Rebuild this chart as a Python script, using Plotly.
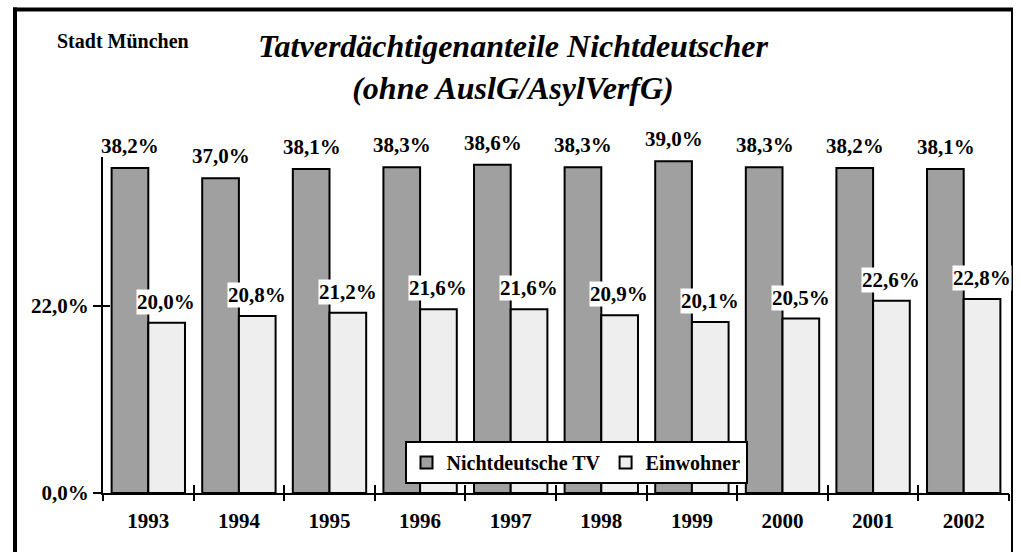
import plotly.graph_objects as go

years = ["1993", "1994", "1995", "1996", "1997", "1998", "1999", "2000", "2001", "2002"]
tv_values = [38.2, 37.0, 38.1, 38.3, 38.6, 38.3, 39.0, 38.3, 38.2, 38.1]
einw_values = [20.0, 20.8, 21.2, 21.6, 21.6, 20.9, 20.1, 20.5, 22.6, 22.8]
tv_labels = ["38,2%", "37,0%", "38,1%", "38,3%", "38,6%", "38,3%", "39,0%", "38,3%", "38,2%", "38,1%"]
einw_labels = ["20,0%", "20,8%", "21,2%", "21,6%", "21,6%", "20,9%", "20,1%", "20,5%", "22,6%", "22,8%"]
y_tickvals = [0, 22]
y_ticktext = ["0,0%", "22,0%"]

FONT = "Liberation Serif"
W, H = 1021, 552
ML, MR, MT, MB = 103, 12, 157, 59

n = len(years)
pos = list(range(n))
bounds = [i - 0.5 for i in range(n + 1)]
xr = [-0.5, n - 0.5]
yr = [0, 39.5]

def bfont(size):
    return dict(family=FONT, size=size, color="black", weight="bold")

fig = go.Figure()
fig.add_trace(go.Bar(
    x=pos, y=tv_values, name="Nichtdeutsche TV",
    marker=dict(color="#a0a0a0", line=dict(color="black", width=2)),
))
fig.add_trace(go.Bar(
    x=pos, y=einw_values, name="Einwohner",
    marker=dict(color="#eeeeee", line=dict(color="black", width=2)),
))
# invisible helper traces so the tick-only overlay axes get drawn
fig.add_trace(go.Scatter(x=bounds, y=[0] * len(bounds), xaxis="x2", yaxis="y",
                         mode="markers", marker=dict(opacity=0), showlegend=False, hoverinfo="skip"))
fig.add_trace(go.Scatter(x=bounds, y=[0] * len(bounds), xaxis="x3", yaxis="y",
                         mode="markers", marker=dict(opacity=0), showlegend=False, hoverinfo="skip"))
fig.add_trace(go.Scatter(x=[0, 0], y=y_tickvals, xaxis="x", yaxis="y2",
                         mode="markers", marker=dict(opacity=0), showlegend=False, hoverinfo="skip"))

annotations = []
for p, v, t in zip(pos, tv_values, tv_labels):
    annotations.append(dict(x=p, y=v, xref="x", yref="y", text=t, showarrow=False,
                            xshift=-18, yshift=8, yanchor="bottom", font=bfont(21)))
for p, v, t in zip(pos, einw_values, einw_labels):
    annotations.append(dict(x=p, y=v, xref="x", yref="y", text=t, showarrow=False,
                            xshift=18, yshift=8, yanchor="bottom", bgcolor="white",
                            borderpad=0, font=bfont(21)))

pw = W - ML - MR
ph = H - MT - MB
def px_x(p):
    return (p - ML) / pw
def px_y(p):
    return (H - MB - p) / ph

annotations.append(dict(xref="paper", yref="paper", x=px_x(55), y=px_y(41),
                        text="Stadt München", showarrow=False,
                        xanchor="left", yanchor="middle", font=bfont(20)))
annotations.append(dict(xref="paper", yref="paper", x=px_x(513), y=px_y(67),
                        text="<i>Tatverdächtigenanteile Nichtdeutscher<br>(ohne AuslG/AsylVerfG)</i>",
                        showarrow=False, xanchor="center", yanchor="middle", font=bfont(32)))

shapes = [
    dict(type="line", xref="paper", yref="paper", x0=px_x(15), x1=px_x(15), y0=px_y(7.5), y1=px_y(560),
         line=dict(color="black", width=4)),
    dict(type="line", xref="paper", yref="paper", x0=px_x(13), x1=px_x(1013), y0=px_y(9.5), y1=px_y(9.5),
         line=dict(color="black", width=4)),
    dict(type="line", xref="paper", yref="paper", x0=px_x(1012), x1=px_x(1012), y0=px_y(8), y1=px_y(560),
         line=dict(color="black", width=2)),
]

fig.update_layout(
    width=W, height=H,
    margin=dict(l=ML, r=MR, t=MT, b=MB),
    paper_bgcolor="white", plot_bgcolor="white",
    barmode="group", bargap=0.19, bargroupgap=0,
    font=dict(family=FONT, color="black"),
    showlegend=True,
    legend=dict(orientation="h", x=px_x(576), y=px_y(441), xanchor="center", yanchor="top",
                bgcolor="white", bordercolor="black", borderwidth=2,
                font=bfont(20), itemwidth=30),
    xaxis=dict(range=xr, tickvals=pos, ticktext=years, ticks="",
               showline=True, linecolor="black", linewidth=2,
               showgrid=False, zeroline=False, tickfont=bfont(21),
               ticklabelstandoff=8, fixedrange=True),
    xaxis2=dict(overlaying="x", anchor="y", range=xr, tickvals=bounds,
                ticks="outside", ticklen=7, tickwidth=2, tickcolor="black",
                showticklabels=False, showgrid=False, zeroline=False, showline=False),
    xaxis3=dict(overlaying="x", anchor="y", range=xr, tickvals=bounds,
                ticks="inside", ticklen=8, tickwidth=2, tickcolor="black",
                showticklabels=False, showgrid=False, zeroline=False, showline=False),
    yaxis=dict(range=yr, tickvals=y_tickvals, ticktext=y_ticktext,
               showline=True, linecolor="black", linewidth=2,
               ticks="outside", ticklen=8, tickwidth=2, tickcolor="black",
               showgrid=False, zeroline=False, tickfont=bfont(21)),
    yaxis2=dict(overlaying="y", anchor="x", range=yr, tickvals=y_tickvals,
                ticks="inside", ticklen=7, tickwidth=2, tickcolor="black",
                showticklabels=False, showgrid=False, zeroline=False, showline=False),
    annotations=annotations,
    shapes=shapes,
)

fig.write_html("out.html", config={"displayModeBar": False},
               post_script="document.body.style.margin='0px';")
